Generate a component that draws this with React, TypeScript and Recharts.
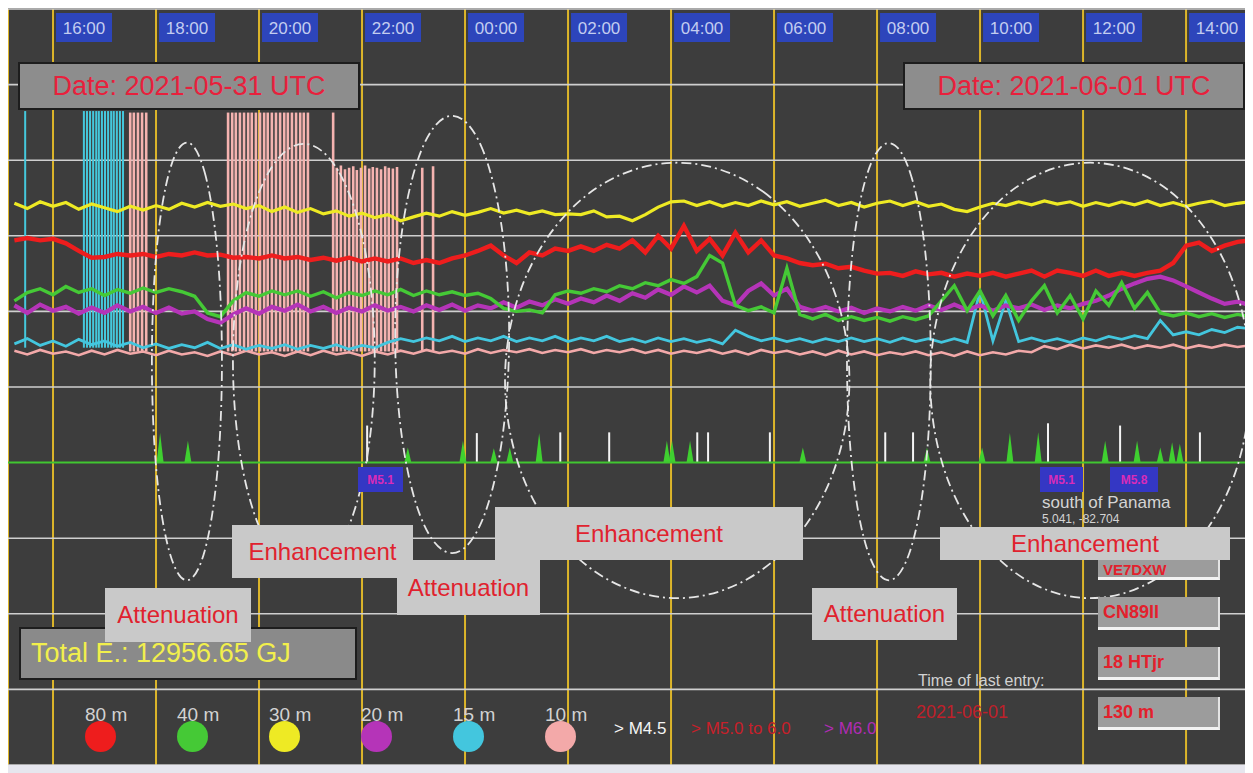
import React from 'react';
import { ComposedChart, Bar, Line, XAxis, YAxis, CartesianGrid, ReferenceLine } from 'recharts';

const W = 1245;
const H = 757;
const FONT = '"Liberation Sans", Arial, Helvetica, sans-serif';
const X_DOMAIN: [number, number] = [15.126, 39.3];
const Y_DOMAIN: [number, number] = [0, 100];

// time axis (hours since 2021-05-31 00:00 UTC)
const HOUR_TICKS = [16, 18, 20, 22, 24, 26, 28, 30, 32, 34, 36, 38];
const HOUR_LABELS = ['16:00', '18:00', '20:00', '22:00', '00:00', '02:00', '04:00', '06:00', '08:00', '10:00', '12:00', '14:00'];
const LEVEL_TICKS = [10, 20, 30, 50, 60, 70, 80, 90];
const QUAKE_BASE = 40;

const SAMPLE_START = 15.25;
const SAMPLE_STEP = 0.25;

// band signal levels, one sample every 15 minutes
const BAND_80M = [
  69.4, 69.7, 69.4, 69.6, 69.0, 68.0, 67.1, 67.2, 67.6, 67.4,
  67.6, 67.2, 67.6, 67.4, 67.8, 67.4, 67.5, 67.1, 67.2, 67.0,
  67.4, 67.0, 67.2, 66.8, 67.1, 66.7, 67.1, 66.6, 67.0, 66.6,
  67.0, 66.4, 66.8, 66.4, 67.0, 67.4, 68.0, 68.7, 67.4, 66.4,
  67.8, 67.4, 68.3, 68.0, 68.6, 68.0, 68.8, 68.3, 69.4, 67.8,
  70.0, 68.3, 71.3, 68.0, 69.6, 67.4, 70.4, 67.8, 69.4, 67.4,
  67.0, 66.4, 66.1, 66.3, 65.7, 65.9, 65.4, 65.0, 65.1, 64.7,
  65.3, 64.9, 65.1, 64.6, 65.0, 64.7, 65.1, 64.6, 65.0, 65.4,
  64.6, 65.4, 65.1, 64.7, 65.4, 64.7, 65.1, 64.7, 65.1, 65.4,
  66.4, 68.7, 69.1, 68.0, 68.7, 69.2, 69.4,
];
const BAND_40M = [
  61.4, 62.5, 63.0, 62.2, 63.3, 62.5, 63.0, 62.1, 62.9, 62.4,
  63.1, 62.5, 63.0, 62.6, 62.0, 59.8, 59.3, 61.4, 62.5, 62.0,
  62.7, 62.2, 62.7, 62.0, 62.6, 61.8, 62.5, 62.1, 62.7, 62.2,
  62.9, 62.1, 62.7, 62.2, 62.6, 62.1, 62.4, 61.7, 60.4, 60.0,
  60.2, 59.8, 62.2, 62.7, 62.4, 63.0, 62.6, 63.4, 63.0, 63.8,
  63.4, 64.2, 63.7, 64.6, 67.4, 66.4, 60.8, 60.1, 60.6, 59.8,
  65.7, 59.6, 59.0, 59.6, 58.8, 59.3, 58.8, 59.2, 58.7, 59.3,
  58.9, 59.4, 61.4, 63.4, 60.1, 62.7, 59.4, 62.1, 58.8, 61.4,
  63.4, 59.8, 62.1, 59.0, 62.7, 60.8, 63.8, 60.4, 62.5, 59.8,
  59.4, 59.8, 59.3, 59.7, 59.2, 59.6, 59.3,
];
const BAND_30M = [
  74.3, 73.6, 74.5, 73.9, 74.4, 73.5, 74.2, 73.7, 73.2, 73.9,
  73.4, 74.0, 73.5, 74.3, 73.8, 74.4, 73.9, 74.2, 73.6, 74.0,
  73.2, 73.8, 73.1, 73.6, 72.9, 73.3, 72.6, 73.0, 72.4, 72.8,
  72.0, 72.5, 73.0, 72.6, 73.2, 72.7, 73.1, 73.6, 73.0, 73.4,
  72.9, 73.3, 72.8, 72.9, 72.8, 73.3, 72.5, 72.6, 72.0, 72.8,
  73.8, 74.5, 74.6, 74.0, 74.5, 73.9, 74.4, 74.0, 74.6, 74.1,
  74.5, 73.9, 74.3, 74.7, 74.0, 74.4, 73.8, 74.3, 74.6, 74.0,
  74.5, 73.9, 74.2, 73.5, 73.2, 73.8, 74.3, 74.0, 74.5, 74.1,
  74.6, 74.2, 74.5, 73.9, 74.4, 74.0, 74.5, 74.1, 74.6, 74.0,
  74.4, 73.9, 74.3, 74.6, 74.0, 74.3, 74.5,
];
const BAND_20M = [
  60.8, 59.8, 60.9, 60.1, 60.6, 59.7, 60.5, 59.8, 60.8, 60.0,
  60.6, 59.8, 60.5, 59.7, 60.0, 59.0, 58.5, 59.6, 60.4, 59.7,
  60.6, 60.1, 60.9, 60.0, 60.6, 59.8, 60.5, 60.0, 60.8, 60.1,
  60.6, 60.0, 60.8, 60.2, 60.9, 60.1, 60.8, 60.4, 61.2, 60.5,
  61.3, 60.8, 61.6, 61.0, 61.7, 61.2, 62.1, 61.4, 62.4, 61.8,
  62.9, 62.2, 63.3, 62.5, 63.4, 61.4, 60.8, 62.7, 63.7, 62.1,
  63.0, 60.6, 60.1, 60.6, 60.0, 60.5, 59.8, 60.4, 60.0, 60.6,
  60.1, 60.8, 60.2, 60.9, 60.2, 60.8, 60.1, 60.8, 60.4, 60.9,
  60.2, 60.8, 60.4, 61.0, 61.4, 62.1, 63.0, 63.7, 64.3, 64.6,
  64.1, 63.3, 62.5, 61.7, 61.0, 61.3, 60.8,
];
const BAND_15M = [
  55.7, 56.4, 55.5, 56.1, 55.4, 56.3, 55.6, 56.1, 55.4, 55.9,
  55.2, 55.7, 55.1, 55.6, 55.2, 55.9, 55.1, 55.6, 55.0, 55.5,
  55.1, 55.6, 55.0, 55.5, 55.1, 55.6, 55.0, 55.5, 55.2, 55.9,
  56.4, 56.0, 56.5, 56.1, 56.7, 56.0, 56.5, 56.1, 56.7, 56.0,
  56.5, 56.1, 56.7, 56.0, 56.5, 56.1, 56.7, 56.0, 56.4, 55.9,
  56.5, 56.0, 56.4, 55.9, 56.3, 55.7, 57.5, 56.7, 56.1, 56.5,
  56.0, 56.4, 55.9, 56.4, 56.0, 56.5, 56.0, 56.4, 55.9, 56.5,
  56.0, 56.4, 55.9, 56.4, 55.9, 62.7, 56.1, 61.4, 56.0, 56.5,
  56.0, 56.4, 55.9, 56.5, 56.1, 56.7, 56.3, 56.8, 56.4, 58.8,
  56.9, 57.3, 56.9, 57.6, 57.2, 57.9, 57.7,
];
const BAND_10M = [
  54.8, 54.3, 54.9, 54.4, 54.7, 54.2, 54.8, 54.3, 54.9, 54.4,
  54.7, 54.2, 54.8, 54.3, 54.6, 54.1, 54.7, 54.2, 54.8, 54.3,
  54.6, 54.1, 54.7, 54.2, 54.8, 54.3, 54.6, 54.1, 54.7, 54.3,
  54.8, 54.4, 54.9, 54.5, 54.8, 54.4, 55.0, 54.5, 54.9, 54.6,
  55.0, 54.5, 54.9, 54.6, 55.0, 54.5, 54.9, 54.6, 55.0, 54.5,
  54.9, 54.4, 54.8, 54.5, 54.9, 54.4, 54.8, 54.3, 54.9, 54.5,
  54.8, 54.3, 54.7, 54.2, 54.8, 54.3, 54.7, 54.2, 54.6, 54.3,
  54.7, 54.2, 54.6, 54.1, 54.7, 54.2, 54.6, 54.3, 54.8, 54.6,
  55.4, 55.0, 55.6, 55.1, 55.5, 55.2, 55.6, 55.1, 55.5, 55.2,
  55.6, 55.1, 55.5, 55.2, 55.6, 55.3, 55.5,
];

// bursts (vertical streaks)
const CYAN_BURST_T = [15.46, 16.60, 16.66, 16.72, 16.78, 16.84, 16.89, 16.95, 17.01, 17.07, 17.13, 17.18, 17.24, 17.30, 17.36];
const CYAN_BURST_TOP = [86.5, 86.5, 86.5, 86.5, 86.5, 86.5, 86.5, 86.5, 86.5, 86.5, 86.5, 86.5, 86.5, 86.5, 86.5];
const CYAN_BURST_LOW = 55.2;
const PINK_BURST_T = [
  17.50, 17.57, 17.65, 17.73, 17.81,
  19.40, 19.48, 19.55, 19.63, 19.71, 19.79, 19.86, 19.94, 20.02, 20.10, 20.17,
  20.25, 20.33, 20.41, 20.49, 20.56, 20.64, 20.72, 20.80, 20.87, 20.95,
  21.44,
  21.51, 21.59, 21.67, 21.75, 21.83, 21.90, 21.98, 22.06, 22.14, 22.21, 22.29,
  22.37, 22.45, 22.52, 22.60, 22.68,
  23.17, 23.38,
];
const PINK_BURST_TOP = [
  86.3, 86.3, 86.3, 86.3, 86.3,
  86.3, 86.3, 86.3, 86.3, 86.3, 86.3, 86.3, 86.3, 86.3, 86.3, 86.3,
  86.3, 86.3, 86.3, 86.3, 86.3, 86.3, 86.3, 86.3, 86.3, 86.3,
  86.3,
  79.0, 79.3, 78.8, 79.0, 79.2, 78.7, 79.0, 79.3, 78.9, 79.1, 79.0,
  78.8, 79.2, 79.0, 78.9, 79.1,
  79.0, 79.2,
];
const PINK_BURST_LOW = 54.7;

// earthquake markers above the base line
const QUAKE_GREEN_T = [18.08, 18.62, 22.89, 23.96, 24.56, 24.87, 25.44, 27.92, 28.02, 28.37, 30.56, 32.97, 34.04, 34.58, 35.13, 36.43, 37.05, 37.50, 37.73, 37.88];
const QUAKE_GREEN_TOP = [43.9, 42.9, 42.0, 42.9, 41.9, 42.0, 43.9, 42.9, 42.9, 42.9, 42.0, 42.0, 42.0, 43.9, 44.0, 42.9, 42.9, 42.0, 42.7, 42.5];
const QUAKE_WHITE_T = [22.10, 24.23, 25.85, 26.80, 28.51, 28.72, 29.92, 32.16, 32.70, 35.32, 36.72, 38.27];
const QUAKE_WHITE_TOP = [44.9, 43.9, 44.0, 44.0, 44.0, 44.0, 44.0, 44.0, 44.0, 45.2, 44.9, 44.0];

// attenuation / enhancement loops [time, level]
const LOOP_1: [number, number][] = [[18.60, 83.7], [18.96, 79.6], [19.22, 68.5], [19.31, 53.4], [19.22, 38.2], [18.96, 27.1], [18.60, 23.1], [18.24, 27.1], [17.98, 38.2], [17.89, 53.4], [17.98, 68.5], [18.24, 79.6]];
const LOOP_2: [number, number][] = [[20.87, 83.5], [21.59, 79.5], [22.12, 68.6], [22.31, 53.6], [22.12, 38.7], [21.59, 27.8], [20.87, 23.8], [20.15, 27.8], [19.62, 38.7], [19.43, 53.6], [19.62, 68.6], [20.15, 79.5]];
const LOOP_3: [number, number][] = [[23.75, 87.2], [24.33, 83.2], [24.75, 72.1], [24.91, 56.9], [24.75, 41.8], [24.33, 30.7], [23.75, 26.7], [23.17, 30.7], [22.75, 41.8], [22.59, 56.9], [22.75, 72.1], [23.17, 83.2]];
const LOOP_4: [number, number][] = [[28.12, 81.0], [29.87, 77.0], [31.15, 65.9], [31.62, 50.9], [31.15, 35.8], [29.87, 24.8], [28.12, 20.7], [26.37, 24.8], [25.09, 35.8], [24.62, 50.9], [25.09, 65.9], [26.37, 77.0]];
const LOOP_5: [number, number][] = [[32.23, 83.6], [32.66, 79.6], [32.97, 68.5], [33.08, 53.4], [32.97, 38.2], [32.66, 27.1], [32.23, 23.1], [31.80, 27.1], [31.49, 38.2], [31.38, 53.4], [31.49, 68.5], [31.80, 79.6]];
const LOOP_6: [number, number][] = [[36.14, 81.0], [37.77, 77.0], [38.96, 65.9], [39.39, 50.9], [38.96, 35.8], [37.77, 24.8], [36.14, 20.7], [34.51, 24.8], [33.32, 35.8], [32.89, 50.9], [33.32, 65.9], [34.51, 77.0]];

const BANDS = [
  { key: 'b10', name: '10 m', color: '#f3a9a9', values: BAND_10M, width: 2.6 },
  { key: 'b15', name: '15 m', color: '#43c6de', values: BAND_15M, width: 2.8 },
  { key: 'b20', name: '20 m', color: '#b534b8', values: BAND_20M, width: 4.2 },
  { key: 'b40', name: '40 m', color: '#45c936', values: BAND_40M, width: 3.4 },
  { key: 'b80', name: '80 m', color: '#ee1d1d', values: BAND_80M, width: 4.4 },
  { key: 'b30', name: '30 m', color: '#eeea24', values: BAND_30M, width: 3.2 },
];
const LEGEND_ORDER = ['b80', 'b40', 'b30', 'b20', 'b15', 'b10'];

const SAMPLE_TIMES = BAND_80M.map((_, i) => SAMPLE_START + i * SAMPLE_STEP);
const bandRows = SAMPLE_TIMES.map((t, i) => {
  const row: Record<string, number> = { t };
  BANDS.forEach((b) => { row[b.key] = b.values[i]; });
  return row;
});

const spikeRows = [
  ...CYAN_BURST_T.map((t, i) => ({ t, range: [CYAN_BURST_LOW, CYAN_BURST_TOP[i]], kind: 'cyan' })),
  ...PINK_BURST_T.map((t, i) => ({ t, range: [PINK_BURST_LOW, PINK_BURST_TOP[i]], kind: 'pink' })),
  ...QUAKE_GREEN_T.map((t, i) => ({ t, range: [QUAKE_BASE, QUAKE_GREEN_TOP[i]], kind: 'qg' })),
  ...QUAKE_WHITE_T.map((t, i) => ({ t, range: [QUAKE_BASE, QUAKE_WHITE_TOP[i]], kind: 'qw' })),
];

const loops = [LOOP_1, LOOP_2, LOOP_3, LOOP_4, LOOP_5, LOOP_6].map((pts) => pts.map(([t, v]) => ({ t, v })));

const SpikeShape = (props: any) => {
  const { x, y, width, height, payload } = props;
  if (x == null || y == null || height == null || isNaN(y)) return null;
  const top = height < 0 ? y + height : y;
  const h = Math.abs(height);
  const cx = x + width / 2;
  const kind = payload?.kind;
  if (kind === 'qg') {
    return <polygon points={`${cx - 3.5},${top + h} ${cx},${top} ${cx + 3.5},${top + h}`} fill="#3fd030" />;
  }
  const w = kind === 'pink' ? 2.6 : 2;
  const fill = kind === 'cyan' ? '#45c8dc' : kind === 'pink' ? '#f5b3b0' : '#f4f4f4';
  return <rect x={cx - w / 2} y={top} width={w} height={h} fill={fill} />;
};

const HourTick = (props: any) => {
  const { x, payload } = props;
  const idx = HOUR_TICKS.indexOf(payload.value);
  return (
    <g>
      <rect x={x + 3} y={5} width={56} height={29} fill="#2d45bb" />
      <text x={x + 31} y={26} textAnchor="middle" fill="#c3cdf0" fontSize={17} fontFamily={FONT}>
        {HOUR_LABELS[idx]}
      </text>
    </g>
  );
};

const layer: React.CSSProperties = { position: 'absolute', left: 0, top: 0 };
const M0 = { top: 0, right: 0, bottom: 0, left: 0 };
const M1 = { top: 1, right: 0, bottom: 0, left: 0 };

const grayBox = (left: number, top: number, width: number, height: number): React.CSSProperties => ({
  position: 'absolute', left, top, width, height, boxSizing: 'border-box',
  display: 'flex', alignItems: 'center', justifyContent: 'center', whiteSpace: 'nowrap',
});

const ANNOTATIONS = [
  { text: 'Enhancement', left: 224, top: 517, width: 181, height: 53 },
  { text: 'Attenuation', left: 389, top: 552, width: 143, height: 55 },
  { text: 'Enhancement', left: 487, top: 499, width: 308, height: 53 },
  { text: 'Attenuation', left: 804, top: 580, width: 145, height: 52 },
];

const STATION_BOXES = [
  { text: 'CN89ll', top: 589 },
  { text: '18 HTjr', top: 639 },
  { text: '130 m', top: 689 },
];

const QUAKE_TAGS = [
  { text: 'M5.1', left: 350, width: 45 },
  { text: 'M5.1', left: 1032, width: 43 },
  { text: 'M5.8', left: 1102, width: 48 },
];

export default function App() {
  const legendBands = LEGEND_ORDER.map((k) => BANDS.find((b) => b.key === k)!);
  return (
    <div style={{ fontFamily: FONT }}>
      <div style={{ position: 'relative', width: W, height: H, background: '#3d3d3d', overflow: 'hidden' }}>
        <div style={layer}>
          <ComposedChart width={W} height={H} data={spikeRows} margin={M0}>
            <CartesianGrid horizontal={false} stroke="#dcb52a" strokeWidth={2} />
            <CartesianGrid vertical={false} stroke="#cfcfcf" strokeWidth={1.6} />
            <XAxis
              dataKey="t"
              type="number"
              domain={X_DOMAIN}
              allowDataOverflow
              orientation="top"
              height={1}
              ticks={HOUR_TICKS}
              interval={0}
              tickLine={false}
              axisLine={false}
              tick={<HourTick />}
            />
            <YAxis type="number" domain={Y_DOMAIN} allowDataOverflow ticks={LEVEL_TICKS} hide />
            <ReferenceLine y={QUAKE_BASE} stroke="#41c631" strokeWidth={2} />
            <Bar dataKey="range" barSize={2} shape={<SpikeShape />} isAnimationActive={false} />
          </ComposedChart>
        </div>
        <div style={layer}>
          <ComposedChart width={W} height={H} data={bandRows} margin={M1}>
            <XAxis dataKey="t" type="number" domain={X_DOMAIN} allowDataOverflow hide />
            <YAxis type="number" domain={Y_DOMAIN} allowDataOverflow hide />
            {BANDS.map((b) => (
              <Line key={b.key} dataKey={b.key} name={b.name} stroke={b.color} strokeWidth={b.width}
                dot={false} activeDot={false} type="linear" isAnimationActive={false} />
            ))}
            {loops.map((pts, i) => (
              <Line key={`loop${i}`} data={pts} dataKey="v" stroke="#e6e6e6" strokeWidth={1.8}
                strokeDasharray="10 4 2 4" type="basisClosed" dot={false} activeDot={false}
                isAnimationActive={false} />
            ))}
          </ComposedChart>
        </div>

        {/* date boxes */}
        <div style={{ ...grayBox(10, 54, 342, 48), background: '#8d8d8d', border: '2px solid #1d1d1d', color: '#e8203c', fontSize: 27 }}>Date: 2021-05-31 UTC</div>
        <div style={{ ...grayBox(895, 54, 342, 48), background: '#8d8d8d', border: '2px solid #1d1d1d', color: '#e8203c', fontSize: 27 }}>Date: 2021-06-01 UTC</div>

        {/* total energy */}
        <div style={{ ...grayBox(11, 619, 338, 53), justifyContent: 'flex-start', paddingLeft: 10, background: '#8a8a8a', border: '2px solid #1d1d1d', color: '#f2ef4c', fontSize: 27 }}>Total E.: 12956.65 GJ</div>
        <div style={{ ...grayBox(97, 580, 146, 54), background: '#c9c9c9', color: '#e0222e', fontSize: 24 }}>Attenuation</div>

        {/* quake tags and location */}
        {QUAKE_TAGS.map((q, i) => (
          <div key={i} style={{ ...grayBox(q.left, 459, q.width, 25), background: '#3437c4', color: '#d82bb8', fontSize: 12, fontWeight: 700 }}>{q.text}</div>
        ))}
        <div style={{ position: 'absolute', left: 1034, top: 485, fontSize: 17, color: '#d4d4d4', whiteSpace: 'nowrap', lineHeight: '19px' }}>south of Panama</div>
        <div style={{ position: 'absolute', left: 1034, top: 505, fontSize: 12, color: '#d4d4d4', whiteSpace: 'nowrap', lineHeight: '13px' }}>5.041, -82.704</div>

        {/* station boxes */}
        <div style={{ ...grayBox(1090, 539, 122, 33), justifyContent: 'flex-start', alignItems: 'flex-end', paddingLeft: 5, background: '#9c9c9c', borderBottom: '3px solid #f2f2f2', borderRight: '2px solid #e4e4e4', color: '#e3202c', fontSize: 15, fontWeight: 700, lineHeight: '15px' }}>VE7DXW</div>
        {STATION_BOXES.map((s, i) => (
          <div key={i} style={{ ...grayBox(1090, s.top, 122, 33), justifyContent: 'flex-start', paddingLeft: 5, background: '#9c9c9c', borderBottom: '3px solid #f2f2f2', borderRight: '2px solid #e4e4e4', color: '#e3202c', fontSize: 18, fontWeight: 700 }}>{s.text}</div>
        ))}

        {/* annotations */}
        {ANNOTATIONS.map((a, i) => (
          <div key={i} style={{ ...grayBox(a.left, a.top, a.width, a.height), background: '#c9c9c9', color: '#e0222e', fontSize: 24 }}>{a.text}</div>
        ))}
        <div style={{ ...grayBox(932, 519, 290, 33), background: '#c9c9c9', color: '#e0222e', fontSize: 24 }}>Enhancement</div>

        {/* legend */}
        {legendBands.map((b, i) => (
          <React.Fragment key={b.key}>
            <div style={{ position: 'absolute', left: 77 + i * 92, top: 696, fontSize: 19, color: '#d2d2d2', whiteSpace: 'nowrap', lineHeight: '22px' }}>{b.name}</div>
            <div style={{ position: 'absolute', left: 77 + i * 92, top: 713, width: 31, height: 31, borderRadius: '50%', background: b.color }} />
          </React.Fragment>
        ))}
        <div style={{ position: 'absolute', left: 606, top: 711, fontSize: 17, color: '#f4f4f4', whiteSpace: 'nowrap', lineHeight: '20px' }}>&gt; M4.5</div>
        <div style={{ position: 'absolute', left: 683, top: 711, fontSize: 17, color: '#c8202a', whiteSpace: 'nowrap', lineHeight: '20px' }}>&gt; M5.0 to 6.0</div>
        <div style={{ position: 'absolute', left: 816, top: 711, fontSize: 17, color: '#b02cb4', whiteSpace: 'nowrap', lineHeight: '20px' }}>&gt; M6.0</div>
        <div style={{ position: 'absolute', left: 910, top: 663, fontSize: 16, color: '#d2d2d2', whiteSpace: 'nowrap', lineHeight: '20px' }}>Time of last entry:</div>
        <div style={{ position: 'absolute', left: 908, top: 694, fontSize: 18, color: '#c0202a', whiteSpace: 'nowrap', lineHeight: '20px' }}>2021-06-01</div>
      </div>
      <div style={{ width: W, height: 8, background: '#e6e6ee' }} />
    </div>
  );
}
